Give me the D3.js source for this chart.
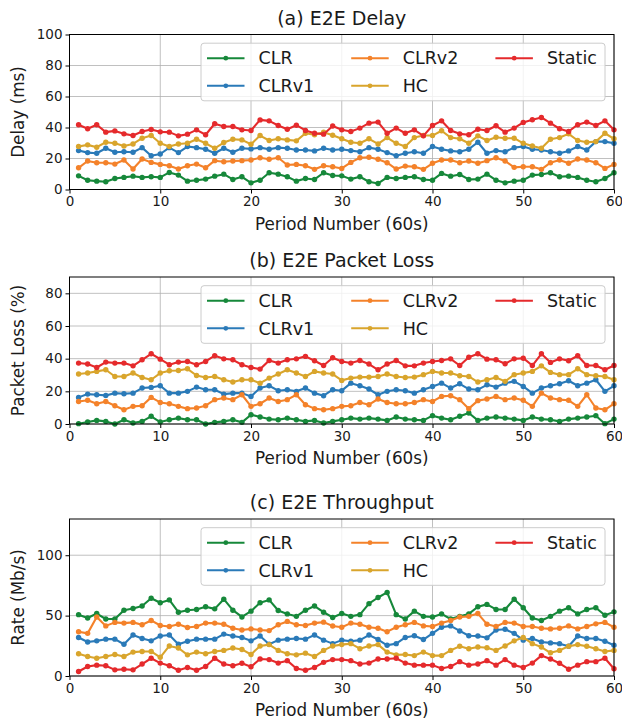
<!DOCTYPE html>
<html>
<head>
<meta charset="utf-8">
<script src="https://cdn.jsdelivr.net/npm/d3@7"></script>
<style>
  body { margin: 0; background: #ffffff; }
</style>
</head>
<body>
<script>
// x values shared by all three panels
const periods = [1,2,3,4,5,6,7,8,9,10,11,12,13,14,15,16,17,18,19,20,
                 21,22,23,24,25,26,27,28,29,30,31,32,33,34,35,36,37,38,39,40,
                 41,42,43,44,45,46,47,48,49,50,51,52,53,54,55,56,57,58,59,60];
const seriesNames = ["CLR", "CLRv1", "CLRv2", "HC", "Static"];
const xTicks = [0, 10, 20, 30, 40, 50, 60];

// (a) E2E Delay (ms)
const delayCLR = [8.8,6.0,5.4,5.0,7.1,7.8,8.6,7.8,8.2,7.8,11.0,9.3,5.4,6.0,6.7,8.6,9.9,6.5,8.2,4.3,
                  6.0,10.8,9.9,8.2,5.4,7.1,6.5,10.8,9.0,8.8,6.7,8.2,5.0,3.9,7.8,7.1,7.8,8.2,6.5,6.0,
                  10.4,8.6,9.7,6.5,6.7,9.9,6.0,4.3,5.4,6.0,9.3,9.7,10.8,8.2,8.6,7.8,6.0,5.0,7.1,10.8];
const delayCLRv1 = [25.1,23.8,23.4,26.6,24.0,24.4,24.0,27.0,21.8,22.9,27.0,23.8,27.7,27.0,26.0,23.4,26.6,24.0,26.6,26.2,
                    27.0,26.0,27.0,26.6,25.5,25.5,24.9,26.6,25.5,26.0,25.1,24.4,27.0,26.0,23.8,21.8,23.4,24.4,23.4,27.7,
                    26.0,24.9,24.4,26.0,30.5,23.4,25.1,24.4,27.0,27.7,26.0,25.5,24.4,23.4,24.9,27.7,25.5,30.9,30.9,29.8];
const delayCLRv2 = [14.0,18.4,17.3,17.3,16.4,19.0,13.2,19.7,17.5,16.2,15.3,13.2,15.3,16.4,14.0,18.6,17.9,18.4,18.6,19.0,
                    20.5,19.5,20.5,15.8,16.2,15.3,13.0,15.3,14.7,13.6,17.5,20.5,20.8,19.5,17.3,13.2,15.1,14.7,13.0,16.9,
                    19.0,19.0,17.3,18.4,16.9,18.6,20.5,18.4,14.3,14.7,14.7,13.0,17.3,19.0,16.9,19.7,19.0,17.3,13.6,16.2];
const delayHC = [27.7,28.8,27.3,30.5,29.8,28.1,29.4,33.1,34.8,29.8,27.7,29.4,29.8,32.4,29.8,26.6,30.3,32.4,32.0,29.2,
                 34.8,31.6,32.7,32.0,31.4,36.3,35.3,37.0,35.0,32.7,30.5,29.8,32.7,29.4,33.5,29.8,27.7,33.5,34.8,34.8,
                 37.9,33.5,32.7,29.8,34.6,31.6,33.7,33.1,33.1,29.8,28.1,26.6,32.4,33.5,35.9,31.6,30.5,30.9,36.3,32.7];
const delayStatic = [41.8,39.2,41.8,37.0,37.8,35.9,34.8,37.4,38.7,37.2,37.0,34.6,35.7,38.5,35.3,42.4,40.6,40.6,38.5,38.1,
                     44.9,44.3,41.3,38.9,41.5,38.1,36.3,35.7,41.0,38.5,37.4,39.6,42.8,43.5,36.3,39.6,36.3,38.5,34.6,41.3,
                     44.3,38.1,35.9,35.3,38.9,38.1,41.1,37.0,39.6,43.3,45.0,46.5,42.8,39.2,37.4,41.8,43.5,41.3,44.3,38.5];

// (b) E2E Packet Loss (%)
const lossCLR = [0.2,1.2,2.2,1.6,0.0,2.6,0.6,1.6,4.7,1.2,2.6,3.6,2.6,2.6,0.0,1.0,1.6,2.6,1.0,5.7,
                 4.3,3.0,2.6,3.6,2.6,1.6,2.2,0.6,1.6,2.6,3.6,3.0,3.6,3.0,2.2,4.3,3.0,2.6,2.2,5.1,
                 3.6,2.6,4.7,6.7,2.2,3.6,4.3,3.6,3.0,2.2,4.3,3.0,2.6,1.6,3.0,3.6,4.3,5.1,0.2,3.0];
const lossCLRv1 = [16.3,18.3,17.9,17.5,18.9,18.5,18.9,22.0,22.4,23.4,18.9,18.9,20.0,22.6,21.0,21.0,18.3,18.9,18.9,16.9,
                   22.0,23.4,20.4,21.0,20.0,22.0,18.9,17.3,21.0,20.4,25.0,23.4,21.4,17.9,20.0,21.0,20.4,18.9,21.0,23.0,
                   25.0,22.0,24.6,21.4,21.0,24.0,22.6,25.0,26.1,23.0,18.9,22.0,23.4,24.6,26.5,23.4,25.0,27.1,20.0,23.4];
const lossCLRv2 = [13.8,14.5,12.4,13.8,11.2,8.7,10.8,11.2,16.3,13.2,12.4,10.8,9.4,9.8,11.2,14.9,15.9,14.9,17.9,10.8,
                   12.4,15.9,13.8,14.9,17.9,11.8,9.4,8.7,9.4,10.8,11.2,13.2,11.8,15.3,13.2,12.4,12.4,13.2,14.9,13.8,
                   16.9,17.3,14.9,9.4,14.3,15.3,16.9,14.9,15.9,14.5,10.8,18.9,15.9,14.9,14.5,10.8,17.9,9.8,8.7,12.4];
const lossHC = [30.6,31.2,32.2,33.2,29.1,29.1,31.2,28.5,27.1,31.2,32.6,32.8,33.8,29.7,28.5,29.1,27.1,25.7,27.1,27.1,
                25.0,28.1,30.6,33.2,31.2,29.1,32.2,31.2,30.6,26.7,28.1,28.7,28.7,29.1,30.6,29.1,28.5,28.7,30.2,32.2,
                31.2,31.2,29.5,29.1,25.7,27.1,28.5,26.1,30.2,31.2,32.2,35.6,31.6,30.2,30.2,33.8,30.2,29.5,29.1,27.1];
const lossStatic = [37.3,36.7,34.6,37.9,37.3,37.3,35.6,39.3,43.0,39.7,36.3,37.9,38.3,36.3,38.3,41.8,39.9,39.3,36.3,34.6,
                    33.6,38.9,37.3,39.3,39.9,41.4,38.7,35.8,40.6,38.3,37.3,38.9,36.7,33.2,36.7,38.9,35.6,35.6,37.3,38.3,
                    38.9,39.9,35.8,40.9,43.0,39.7,39.3,36.9,39.9,40.3,35.8,43.0,37.7,39.9,38.7,41.8,35.8,35.8,33.2,35.8];

// (c) E2E Throughput (Mb/s)
const rateCLR = [50.8,48.0,51.7,47.2,47.2,54.5,55.9,57.9,64.4,60.7,63.0,52.8,54.5,55.1,57.3,55.6,63.6,54.5,48.9,53.7,
                 60.7,63.0,54.2,51.4,49.4,54.5,57.9,52.8,48.5,51.7,49.4,50.8,59.9,65.0,69.2,50.8,47.2,53.7,49.4,48.9,
                 51.4,47.2,49.4,51.4,57.3,59.3,55.1,55.1,63.6,56.5,48.0,46.0,49.4,53.7,56.5,51.4,55.1,56.5,50.3,53.1];
const rateCLRv1 = [31.9,28.2,29.1,30.5,30.5,26.3,33.9,31.1,29.1,33.1,33.9,26.3,28.8,30.5,30.5,30.5,34.7,33.1,31.9,29.1,
                   33.1,26.3,29.7,30.5,31.1,30.5,33.9,29.7,26.8,29.7,28.8,29.7,33.9,30.2,25.4,26.8,31.9,33.3,30.2,35.3,
                   40.4,41.5,37.3,33.3,33.1,31.6,38.1,38.7,35.3,29.7,31.1,28.2,27.4,26.8,24.6,33.1,31.1,31.1,28.8,25.4];
const rateCLRv2 = [36.7,35.3,48.9,41.5,44.4,43.8,44.4,42.4,46.0,41.8,41.0,42.9,40.1,41.0,43.8,43.8,42.9,39.5,38.1,39.0,
                   38.1,37.6,42.4,45.2,42.4,41.8,43.8,44.6,41.4,40.4,43.8,42.9,40.4,39.5,36.7,40.4,42.4,44.4,41.5,41.0,
                   43.8,46.0,48.9,49.4,51.7,42.9,41.0,44.4,43.8,41.0,41.0,39.5,39.0,39.5,41.5,39.0,41.0,43.2,44.4,40.4];
const rateHC = [18.4,16.1,14.7,16.1,17.8,16.1,19.8,20.3,20.3,15.5,24.9,23.2,17.5,19.8,18.4,20.3,21.2,23.2,22.0,17.8,
                24.9,26.0,21.2,18.4,17.5,18.9,16.1,21.2,24.9,26.0,26.8,22.6,24.9,26.0,19.8,17.5,17.8,16.9,19.8,16.9,
                16.9,21.2,24.6,22.6,24.0,23.4,21.2,24.9,29.1,31.9,26.8,24.0,19.2,21.2,24.6,26.0,24.6,22.6,20.3,21.2];
const rateStatic = [3.7,7.9,9.0,8.5,5.1,5.6,5.1,9.9,14.7,10.7,8.5,4.8,7.1,4.8,7.9,14.7,9.9,8.5,10.5,7.6,
                    14.1,13.6,10.7,12.7,6.2,4.8,7.1,11.3,13.6,13.6,12.7,9.9,10.7,14.1,14.1,14.7,10.7,9.0,9.0,9.0,
                    6.2,7.9,11.9,9.0,9.9,12.7,9.0,13.6,9.0,7.1,10.7,16.9,14.1,10.5,5.6,9.0,11.9,11.9,14.7,6.0];

const colors = ["#16883a", "#2a7ab8", "#f4822a", "#d9a52c", "#e52a2c"];
const fontFam = "DejaVu Sans, sans-serif";

const canvasW = 622;
const canvasH = 724;
const left = 69.5;
const right = 614;

let svg = d3.select("body").append("svg")
  .attr("width", canvasW)
  .attr("height", canvasH)
  .style("background-color", "#ffffff");

function drawPanel(p) {
  let x = d3.scaleLinear().domain([0, 60]).range([left, right]);
  let y = d3.scaleLinear().domain([0, p.yMax]).range([p.bottom, p.top]);
  let g = svg.append("g");

  // grid
  g.selectAll(".gx").data(xTicks).enter().append("line")
    .attr("x1", d => x(d)).attr("x2", d => x(d))
    .attr("y1", p.top).attr("y2", p.bottom)
    .attr("stroke", "#b0b0b0").attr("stroke-width", 0.8);
  g.selectAll(".gy").data(p.yTicks).enter().append("line")
    .attr("x1", left).attr("x2", right)
    .attr("y1", d => y(d)).attr("y2", d => y(d))
    .attr("stroke", "#b0b0b0").attr("stroke-width", 0.8);

  // axes
  let xAxis = g.append("g")
    .attr("transform", "translate(0," + p.bottom + ")")
    .call(d3.axisBottom(x).tickValues(xTicks).tickSize(4).tickPadding(3));
  let yAxis = g.append("g")
    .attr("transform", "translate(" + left + ",0)")
    .call(d3.axisLeft(y).tickValues(p.yTicks).tickSize(4).tickPadding(3));
  [xAxis, yAxis].forEach(a => {
    a.select(".domain").remove();
    a.selectAll("line").attr("stroke", "#000").attr("stroke-width", 1);
    a.selectAll("text")
      .attr("font-family", fontFam)
      .attr("font-size", "13.5px")
      .attr("fill", "#1a1a1a");
  });

  // data lines + markers
  let line = d3.line().x((d, i) => x(periods[i])).y(d => y(d));
  p.series.forEach((vals, k) => {
    g.append("path")
      .datum(vals)
      .attr("fill", "none")
      .attr("stroke", colors[k])
      .attr("stroke-width", 2.1)
      .attr("stroke-linejoin", "round")
      .attr("d", line);
    g.selectAll(null).data(vals).enter().append("circle")
      .attr("cx", (d, i) => x(periods[i]))
      .attr("cy", d => y(d))
      .attr("r", 2.7)
      .attr("fill", colors[k]);
  });

  // frame
  g.append("rect")
    .attr("x", left).attr("y", p.top)
    .attr("width", right - left).attr("height", p.bottom - p.top)
    .attr("fill", "none").attr("stroke", "#000").attr("stroke-width", 1);

  // title + axis labels
  g.append("text")
    .attr("x", (left + right) / 2).attr("y", p.top - 10)
    .attr("text-anchor", "middle")
    .attr("font-family", fontFam).attr("font-size", "19px")
    .attr("fill", "#1a1a1a")
    .text(p.title);
  g.append("text")
    .attr("x", (left + right) / 2).attr("y", p.bottom + 40)
    .attr("text-anchor", "middle")
    .attr("font-family", fontFam).attr("font-size", "16.8px")
    .attr("fill", "#1a1a1a")
    .text("Period Number (60s)");
  g.append("text")
    .attr("transform", "translate(24," + ((p.top + p.bottom) / 2) + ") rotate(-90)")
    .attr("text-anchor", "middle")
    .attr("font-family", fontFam).attr("font-size", "16.8px")
    .attr("fill", "#1a1a1a")
    .text(p.ylabel);

  // legend
  let lx = 201, ly = p.top + 8.7;
  g.append("rect")
    .attr("x", lx).attr("y", ly)
    .attr("width", 404).attr("height", 57.6)
    .attr("rx", 3)
    .attr("fill", "#ffffff").attr("fill-opacity", 0.8)
    .attr("stroke", "#cccccc").attr("stroke-width", 1);
  seriesNames.forEach((name, k) => {
    let col = Math.floor(k / 2), row = k % 2;
    let hx = lx + 6 + col * 144.2;
    let hy = ly + 15 + row * 27.6;
    g.append("line")
      .attr("x1", hx).attr("x2", hx + 37.5)
      .attr("y1", hy).attr("y2", hy)
      .attr("stroke", colors[k]).attr("stroke-width", 2);
    g.append("circle")
      .attr("cx", hx + 18.8).attr("cy", hy).attr("r", 2.4)
      .attr("fill", colors[k]);
    g.append("text")
      .attr("x", hx + 51.5).attr("y", hy + 6.2)
      .attr("font-family", fontFam).attr("font-size", "17.5px")
      .attr("fill", "#1a1a1a")
      .text(name);
  });
}

drawPanel({
  title: "(a) E2E Delay", ylabel: "Delay (ms)",
  top: 34.5, bottom: 189.5, yMax: 100, yTicks: [0, 20, 40, 60, 80, 100],
  series: [delayCLR, delayCLRv1, delayCLRv2, delayHC, delayStatic]
});
drawPanel({
  title: "(b) E2E Packet Loss", ylabel: "Packet Loss (%)",
  top: 277, bottom: 424, yMax: 90, yTicks: [0, 20, 40, 60, 80],
  series: [lossCLR, lossCLRv1, lossCLRv2, lossHC, lossStatic]
});
drawPanel({
  title: "(c) E2E Throughput", ylabel: "Rate (Mb/s)",
  top: 519, bottom: 676, yMax: 130, yTicks: [0, 50, 100],
  series: [rateCLR, rateCLRv1, rateCLRv2, rateHC, rateStatic]
});
</script>
</body>
</html>
